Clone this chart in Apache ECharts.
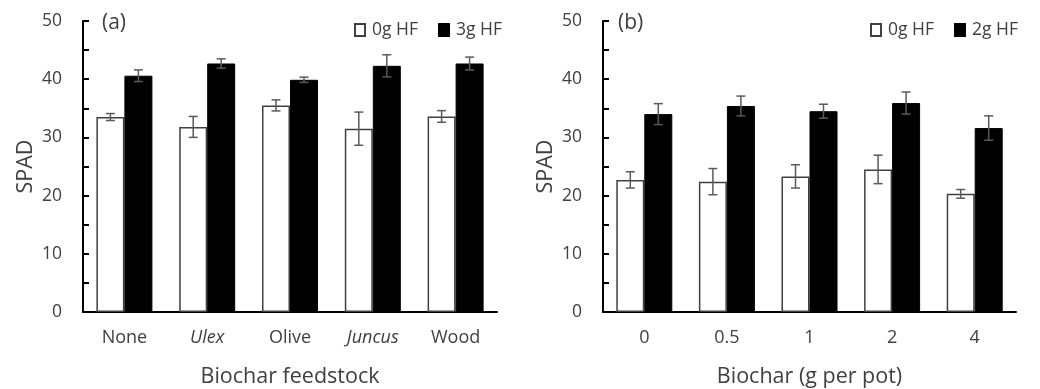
<!DOCTYPE html>
<html>
<head>
<meta charset="utf-8">
<script src="https://cdn.jsdelivr.net/npm/echarts@6/dist/echarts.min.js"></script>
<style>
html,body{margin:0;padding:0;background:#fff;}
#chart{width:1040px;height:389px;}
</style>
</head>
<body>
<div id="chart"></div>
<script>
// ---- data ----
const categoriesA = ['None', 'Ulex', 'Olive', 'Juncus', 'Wood'];
const italicA = ['Ulex', 'Juncus'];
const a0gHF = [33.5, 31.8, 35.5, 31.5, 33.6];
const a0gHFErr = [0.6, 1.8, 0.95, 2.85, 1.0];
const a3gHF = [40.6, 42.7, 39.9, 42.3, 42.7];
const a3gHFErr = [1.0, 0.8, 0.45, 1.9, 1.1];

const categoriesB = ['0', '0.5', '1', '2', '4'];
const b0gHF = [22.7, 22.4, 23.3, 24.5, 20.3];
const b0gHFErr = [1.4, 2.25, 2.0, 2.45, 0.75];
const b2gHF = [34.0, 35.4, 34.5, 35.9, 31.6];
const b2gHFErr = [1.8, 1.7, 1.2, 1.9, 2.1];

const yTicks = [0, 10, 20, 30, 40, 50];

// ---- styling ----
const FONT = 'Open Sans';
const TXT = '#404040';
const BAR_W = 28;

function errData(vals, errs) {
  return vals.map((v, i) => [i, v, errs[i]]);
}
function errRender(sign) {
  return function (params, api) {
    const x = api.value(0), v = api.value(1), e = api.value(2);
    const top = api.coord([x, v + e]);
    const bot = api.coord([x, v - e]);
    const cx = top[0] + sign * BAR_W / 2;
    const hw = 4.5;
    const st = { stroke: '#5a5a5a', lineWidth: 1.5 };
    return {
      type: 'group',
      children: [
        { type: 'line', shape: { x1: cx, y1: top[1], x2: cx, y2: bot[1] }, style: st },
        { type: 'line', shape: { x1: cx - hw, y1: top[1], x2: cx + hw, y2: top[1] }, style: st },
        { type: 'line', shape: { x1: cx - hw, y1: bot[1], x2: cx + hw, y2: bot[1] }, style: st }
      ]
    };
  };
}

function xAxis(gridIndex, cats, name, italics) {
  return {
    type: 'category', gridIndex: gridIndex, data: cats,
    name: name, nameLocation: 'middle', nameGap: 54,
    nameTextStyle: { fontFamily: FONT, fontSize: 21.5, color: TXT },
    axisLine: { lineStyle: { color: '#000', width: 2 } },
    axisTick: { show: false },
    axisLabel: {
      margin: 17, fontFamily: FONT, fontSize: 18, color: TXT, interval: 0,
      formatter: function (v) { return italics.indexOf(v) >= 0 ? '{i|' + v + '}' : v; },
      rich: { i: { fontStyle: 'italic', fontFamily: FONT, fontSize: 18, color: TXT } }
    }
  };
}
function yAxis(gridIndex) {
  return {
    type: 'value', gridIndex: gridIndex, min: 0, max: 50, interval: 5,
    name: 'SPAD', nameLocation: 'middle', nameGap: 46, nameRotate: 90,
    nameTextStyle: { fontFamily: FONT, fontSize: 21.5, color: TXT },
    axisLine: { show: true, lineStyle: { color: '#000', width: 2 } },
    axisTick: { show: true, inside: true, length: 6, lineStyle: { color: '#000', width: 2 } },
    splitLine: { show: false },
    axisLabel: {
      margin: 21, fontFamily: FONT, fontSize: 17.5, color: TXT,
      formatter: function (v) { return yTicks.indexOf(v) >= 0 ? String(v) : ''; }
    }
  };
}
function barSeries(name, data, xi, white) {
  return {
    name: name, type: 'bar', xAxisIndex: xi, yAxisIndex: xi, data: data,
    barWidth: BAR_W, barGap: '0%',
    itemStyle: white ? { color: '#fff', borderColor: '#404040', borderWidth: 1.5 }
                     : { color: '#000', borderColor: '#000', borderWidth: 1 },
    emphasis: { disabled: true }
  };
}
function errSeries(data, xi, sign) {
  return {
    type: 'custom', xAxisIndex: xi, yAxisIndex: xi, data: data,
    renderItem: errRender(sign), z: 10, silent: true
  };
}

const legendBase = {
  top: 16, itemWidth: 10, itemHeight: 12, itemGap: 20, icon: 'rect',
  textStyle: { fontFamily: FONT, fontSize: 17.5, color: TXT, padding: [0, 0, 0, 2] },
  selectedMode: false
};

const chart = echarts.init(document.getElementById('chart'), null, { renderer: 'canvas' });
chart.setOption({
  animation: false,
  backgroundColor: '#fff',
  textStyle: { fontFamily: FONT },
  title: [
    { text: '(a)', left: 97, top: 8, textStyle: { fontFamily: FONT, fontSize: 21, fontWeight: 'normal', color: TXT } },
    { text: '(b)', left: 613, top: 8, textStyle: { fontFamily: FONT, fontSize: 21, fontWeight: 'normal', color: TXT } }
  ],
  legend: [
    Object.assign({}, legendBase, { data: ['0g HF', '3g HF'], right: 533 }),
    Object.assign({}, legendBase, { data: ['0g HF', '2g HF'], right: 17 })
  ],
  grid: [
    { left: 83, right: 543, top: 21, bottom: 77, containLabel: false, outerBoundsMode: 'none' },
    { left: 603, right: 24, top: 21, bottom: 77, containLabel: false, outerBoundsMode: 'none' }
  ],
  xAxis: [
    xAxis(0, categoriesA, 'Biochar feedstock', italicA),
    xAxis(1, categoriesB, 'Biochar (g per pot)', [])
  ],
  yAxis: [yAxis(0), yAxis(1)],
  series: [
    barSeries('0g HF', a0gHF, 0, true),
    barSeries('3g HF', a3gHF, 0, false),
    errSeries(errData(a0gHF, a0gHFErr), 0, -1),
    errSeries(errData(a3gHF, a3gHFErr), 0, 1),
    barSeries('0g HF', b0gHF, 1, true),
    barSeries('2g HF', b2gHF, 1, false),
    errSeries(errData(b0gHF, b0gHFErr), 1, -1),
    errSeries(errData(b2gHF, b2gHFErr), 1, 1)
  ]
});
</script>
</body>
</html>
